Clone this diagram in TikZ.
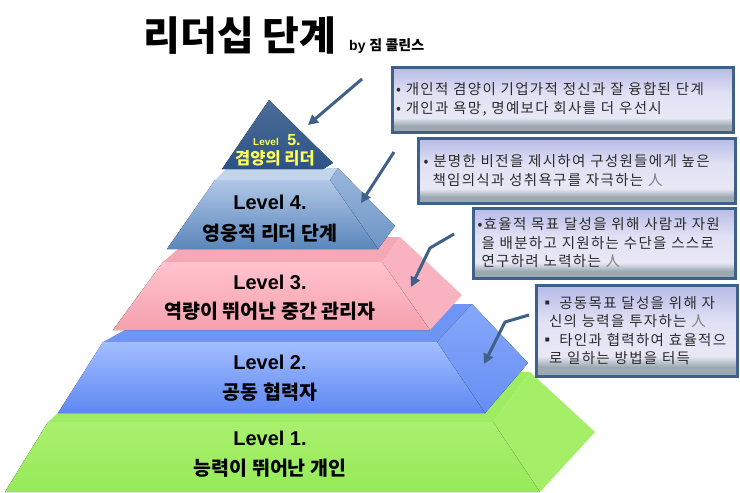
\documentclass[tikz,border=0pt]{standalone}
\usepackage{fontspec}
\setmainfont{Liberation Sans}
\newfontfamily\kr{Noto Sans CJK KR}
\newfontfamily\krs[LetterSpace=9]{Noto Sans CJK KR}
\usetikzlibrary{arrows.meta}
\definecolor{gA}{HTML}{A9F06E}
\definecolor{gB}{HTML}{96EA58}
\definecolor{gTop}{HTML}{9EEC62}
\definecolor{gSide}{HTML}{A4EE68}
\definecolor{bA}{HTML}{A2BEFF}
\definecolor{bB}{HTML}{5E88F2}
\definecolor{bTop}{HTML}{6F95F4}
\definecolor{bSide}{HTML}{86A7FA}
\definecolor{pA}{HTML}{FFC3CE}
\definecolor{pB}{HTML}{F6A0AE}
\definecolor{pTop}{HTML}{F6A7B5}
\definecolor{pSide}{HTML}{F9B2C0}
\definecolor{sA}{HTML}{B0C7E6}
\definecolor{sB}{HTML}{5A86BC}
\definecolor{sTop}{HTML}{C2D4EB}
\definecolor{sSide}{HTML}{9AB7DC}
\definecolor{topT}{HTML}{2C5386}
\definecolor{arr}{HTML}{3F6089}
\definecolor{bxA}{HTML}{9DA9B1}
\definecolor{bxB}{HTML}{E8E8F5}
\definecolor{bxC}{HTML}{E0E1F4}
\definecolor{bxD}{HTML}{B6BAE6}
\definecolor{txt}{HTML}{2B2B2B}
\definecolor{yel}{HTML}{FFFF5A}
\pgfdeclareverticalshading{boxshade}{100bp}{color(0bp)=(bxA); color(25bp)=(bxA); color(30bp)=(bxA); color(36bp)=(bxB); color(55bp)=(bxC); color(75bp)=(bxD); color(100bp)=(bxD)}
\tikzset{
  callout/.style={draw=arr, line width=3pt, shade, shading=boxshade, inner sep=0pt, text=txt, font=\krs\fontsize{14.5}{18.5}\selectfont, align=left},
  lvl/.style={font=\bfseries\fontsize{20}{22}\selectfont, text=black, inner sep=0pt},
  lvlk/.style={font=\kr\bfseries\fontsize{19.5}{22}\selectfont, text=black, inner sep=0pt},
  pointer/.style={draw=arr, line width=3pt, -{Triangle[width=10pt,length=10pt]}}
}
\begin{document}
\begin{tikzpicture}[x=1pt,y=-1pt]
\useasboundingbox (0,0) rectangle (740,493);
\fill[white] (0,0) rectangle (740,493);
% Level 1 green
\fill[gTop] (48,422) -- (103,372) -- (530,372) -- (493,422) -- cycle;
\fill[gSide] (493,422) -- (530,372) -- (595,432) -- (540,492) -- cycle;
\fill[top color=gA, bottom color=gB] (48,422) -- (493,422) -- (540,492) -- (5,492) -- cycle;
% Level 2 blue
\fill[bTop] (103,342) -- (172,304) -- (472,304) -- (437,342) -- cycle;
\fill[top color=bSide, bottom color=bB!80!bSide] (437,342) -- (472,304) -- (528,363) -- (485,413) -- cycle;
\fill[top color=bA, bottom color=bB] (103,342) -- (437,342) -- (485,413) -- (58,413) -- cycle;
% Level 3 pink
\fill[pTop] (163,262) -- (192,237) -- (400,237) -- (382,262) -- cycle;
\fill[pSide] (382,262) -- (400,237) -- (462,295) -- (430,330) -- cycle;
\fill[top color=pA, bottom color=pB] (163,262) -- (382,262) -- (430,330) -- (113,330) -- cycle;
% Level 4 steel blue
\fill[sTop] (215,180) -- (227,168) -- (338,168) -- (330,180) -- cycle;
\fill[top color=sSide, bottom color=sB!70!sSide] (330,180) -- (338,168) -- (395,226) -- (378,249) -- cycle;
\fill[top color=sA, bottom color=sB] (215,180) -- (330,180) -- (378,249) -- (167,249) -- cycle;
% Level 5 triangle
\fill[top color=topT!85!white, bottom color=topT] (269,100) -- (333,163) -- (323,169) -- (222,169) -- cycle;

% Title
\node[font=\kr\bfseries\fontsize{40}{44}\selectfont, anchor=base] (title) at (240,50) {리더십 단계};
\node[font=\bfseries\fontsize{14}{16}\selectfont, anchor=base west, inner sep=0pt] (by) at (349,50) {by {\kr 짐 콜린스}};

% Level texts
\node[font=\bfseries\fontsize{10}{12}\selectfont, text=yel, anchor=base, inner sep=0pt] (l5a) at (266,145) {Level};
\node[font=\bfseries\fontsize{16}{18}\selectfont, text=yel, anchor=base, inner sep=0pt] (l5b) at (294,145) {5.};
\node[font=\kr\bfseries\fontsize{16.5}{18}\selectfont, text=yel, anchor=base, inner sep=0pt] (l5k) at (275,164) {겸양의 리더};

\node[lvl, anchor=base] (l4a) at (270,209) {Level 4.};
\node[lvlk, anchor=base] (l4k) at (270,240) {영웅적 리더 단계};
\node[lvl, anchor=base] (l3a) at (270,289) {Level 3.};
\node[lvlk, anchor=base] (l3k) at (270,318) {역량이 뛰어난 중간 관리자};
\node[lvl, anchor=base] (l2a) at (270,369) {Level 2.};
\node[lvlk, anchor=base] (l2k) at (270,399) {공동 협력자};
\node[lvl, anchor=base] (l1a) at (270,445) {Level 1.};
\node[lvlk, anchor=base] (l1k) at (270,475) {능력이 뛰어난 개인};

% Callouts
\node[callout, minimum width=341pt, minimum height=65pt, text width=333pt] (b1) at (562.5,99.5)
  {• 개인적 겸양이 기업가적 정신과 잘 융합된 단계\\• 개인과 욕망, 명예보다 회사를 더 우선시};
\node[callout, minimum width=317pt, minimum height=65pt, text width=306pt] (b2) at (576.5,170.5)
  {• 분명한 비전을 제시하여 구성원들에게 높은\\\hspace*{9pt}책임의식과 성취욕구를 자극하는 {\color{gray}人}};
\node[callout, minimum width=262pt, minimum height=70pt, text width=253pt] (b3) at (604,243)
  {•효율적 목표 달성을 위해 사람과 자원\\\hspace*{4pt}을 배분하고 지원하는 수단을 스스로\\\hspace*{4pt}연구하려 노력하는 {\color{gray}人}};
\node[callout, minimum width=201pt, minimum height=91pt, text width=193pt] (b4) at (636.5,330.5)
  {▪ 공동목표 달성을 위해 자\\\hspace*{9pt}신의 능력을 투자하는 {\color{gray}人}\\▪ 타인과 협력하여 효율적으\\\hspace*{9pt}로 일하는 방법을 터득};

% Arrows
\coordinate (a1s) at (362,79);
\coordinate (a1e) at (308,125);
\coordinate (a2s) at (394,152);
\coordinate (a2e) at (361,203);
\coordinate (a3s) at (454,234);
\coordinate (a3m) at (430,248);
\coordinate (a3e) at (411,287);
\coordinate (a4s) at (529,315);
\coordinate (a4m) at (505,322);
\coordinate (a4e) at (484,364);
\draw[pointer] (a1s) -- (a1e);
\draw[pointer] (a2s) -- (a2e);
\draw[pointer, line join=round] (a3s) -- (a3m) -- (a3e);
\draw[pointer, line join=round] (a4s) -- (a4m) -- (a4e);
\end{tikzpicture}
\end{document}
